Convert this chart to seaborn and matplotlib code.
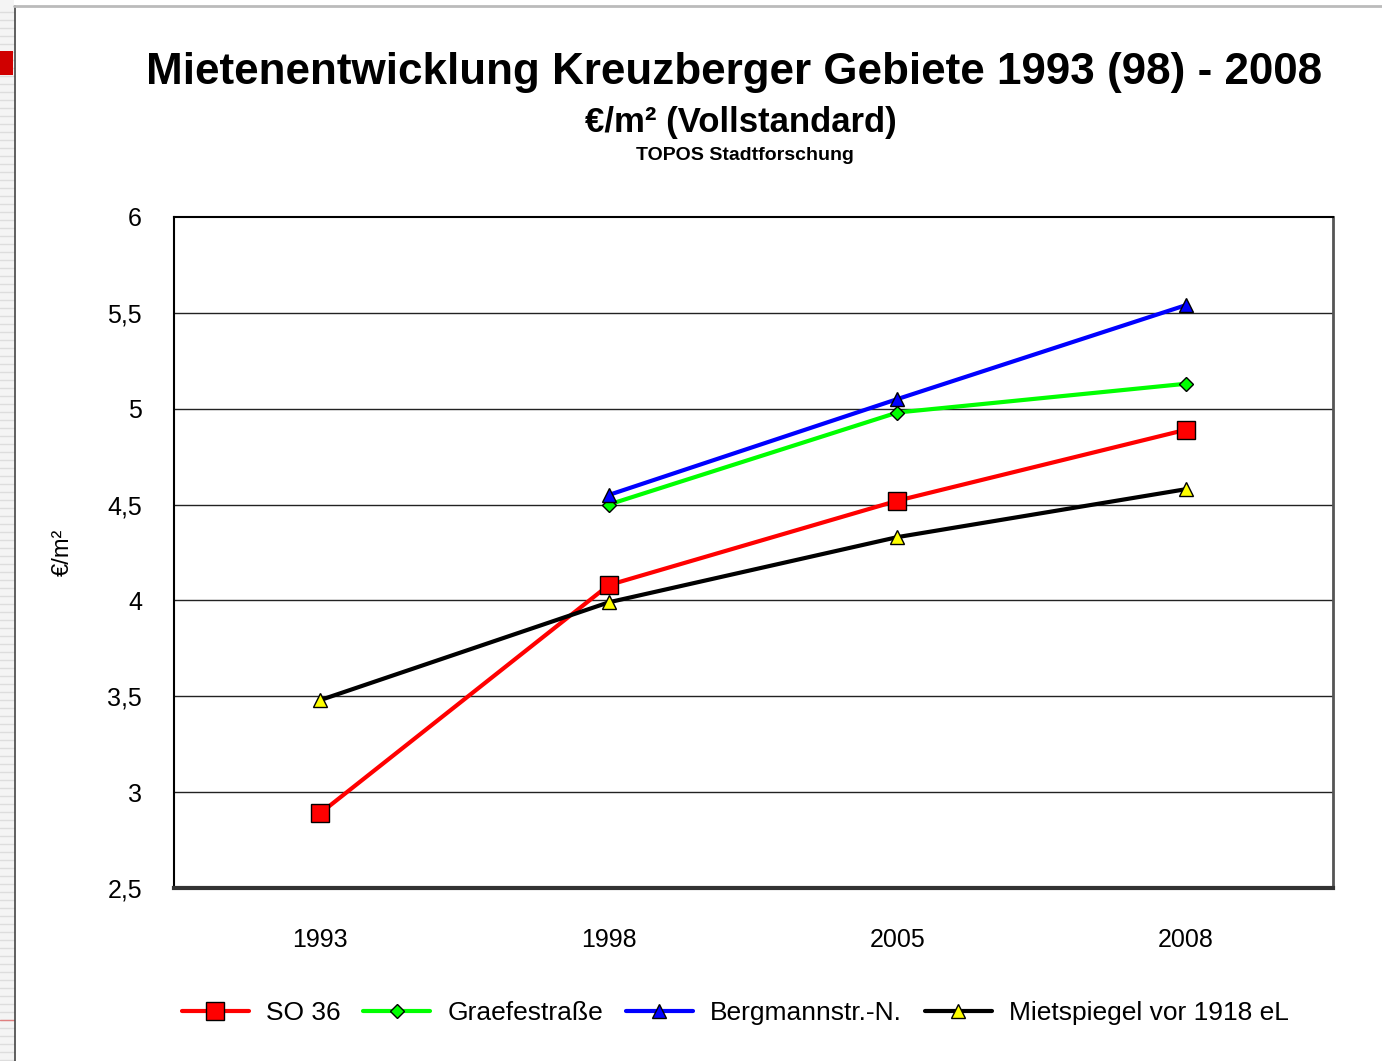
import matplotlib
matplotlib.use("Agg")
import numpy as np
import pandas as pd
import matplotlib.pyplot as plt
import seaborn as sns
from matplotlib.lines import Line2D
from matplotlib.patches import Rectangle

# data
years = ["1993", "1998", "2005", "2008"]
so36 = [2.89, 4.08, 4.52, 4.89]
graefe = [np.nan, 4.50, 4.98, 5.13]
bergmann = [np.nan, 4.55, 5.05, 5.54]
mietspiegel = [3.48, 3.99, 4.33, 4.58]

series_names = ["SO 36", "Graefestraße", "Bergmannstr.-N.", "Mietspiegel vor 1918 eL"]
line_colors = ["#ff0000", "#00ff00", "#0000ff", "#000000"]
face_colors = ["#ff0000", "#00ff00", "#0000ff", "#ffff00"]
markers = ["s", "D", "^", "^"]
marker_sizes = [12.5, 7, 10, 10]
y_ticks = [2.5, 3, 3.5, 4, 4.5, 5, 5.5, 6]

df = pd.DataFrame({"Jahr": years, series_names[0]: so36, series_names[1]: graefe,
                   series_names[2]: bergmann, series_names[3]: mietspiegel})
df["pos"] = range(len(years))
long = df.melt(id_vars=["Jahr", "pos"], var_name="Gebiet", value_name="Miete").dropna()

sns.set_style("white")
plt.rcParams["font.family"] = ["Liberation Sans", "DejaVu Sans"]
plt.rcParams["text.color"] = "black"
plt.rcParams["xtick.color"] = "black"
plt.rcParams["ytick.color"] = "black"
plt.rcParams["axes.labelcolor"] = "black"

fig = plt.figure(figsize=(13.82, 10.61), dpi=100)
ax = fig.add_axes([0.1259, 0.1631, 0.8387, 0.6324])

# draw gridlines first so lines sit on top
for t in y_ticks[1:-1]:
    ax.axhline(t, color="#222222", lw=1.0, zorder=1)

handles = []
for name, lc, fc, mk, ms in zip(series_names, line_colors, face_colors, markers, marker_sizes):
    sub = long[long["Gebiet"] == name]
    sns.lineplot(data=sub, x="pos", y="Miete", ax=ax, color=lc, lw=3,
                 marker=mk, markersize=ms, markerfacecolor=fc,
                 markeredgecolor="black", markeredgewidth=1, zorder=3,
                 legend=False)
    handles.append(Line2D([], [], color=lc, lw=3, marker=mk, markersize=ms,
                          markerfacecolor=fc, markeredgecolor="black",
                          markeredgewidth=1))

ax.set_xlim(-0.507, 3.51)
ax.set_ylim(2.5, 6)
ax.set_xticks(range(len(years)))
ax.set_xticklabels(years, fontsize=18)
ax.set_yticks(y_ticks)
ax.set_yticklabels([f"{t:g}".replace(".", ",") for t in y_ticks], fontsize=18)
ax.tick_params(axis="x", length=0, pad=29)
ax.tick_params(axis="y", length=0, pad=23)
ax.set_xlabel("")
ax.set_ylabel("€/m²", fontsize=17, labelpad=24)

for side in ["left", "top"]:
    ax.spines[side].set_color("black")
    ax.spines[side].set_linewidth(1.5)
ax.spines["right"].set_color("#555555")
ax.spines["right"].set_linewidth(2)
ax.spines["bottom"].set_color("#333333")
ax.spines["bottom"].set_linewidth(3)

fig.legend(handles, series_names, loc="center", bbox_to_anchor=(0.532, 0.045),
           ncol=4, frameon=False, fontsize=19, handlelength=2.55,
           columnspacing=0.85, handletextpad=0.65)

# titles
fig.text(0.531, 0.932, "Mietenentwicklung Kreuzberger Gebiete 1993 (98) - 2008",
         ha="center", va="center", fontsize=31.7, fontweight="bold")
fig.text(0.536, 0.885, "€/m² (Vollstandard)", ha="center", va="center",
         fontsize=25, fontweight="bold")
fig.text(0.539, 0.853, "TOPOS Stadtforschung", ha="center", va="center",
         fontsize=14, fontweight="bold")

# slide frame on the left and top
W, H = 1382, 1061
fig.add_artist(Rectangle((0, 0), 14 / W, 1, transform=fig.transFigure,
                         facecolor="#f4f4f4", edgecolor="none"))
for yp in range(12, H, 8):
    fig.add_artist(Line2D([0, 14 / W], [1 - yp / H] * 2, transform=fig.transFigure,
                          color="#dddddd", lw=1))
fig.add_artist(Rectangle((0, 1 - 75 / H), 13 / W, 24 / H, transform=fig.transFigure,
                         facecolor="#d00000", edgecolor="none", zorder=5))
fig.add_artist(Line2D([0, 14 / W], [1 - 1020 / H] * 2, transform=fig.transFigure,
                      color="#e08080", lw=1, zorder=5))
fig.add_artist(Line2D([14.5 / W, 14.5 / W], [0, 1 - 6 / H], transform=fig.transFigure,
                      color="#444444", lw=1.2, zorder=5))
fig.add_artist(Line2D([14 / W, 1], [1 - 6 / H] * 2, transform=fig.transFigure,
                      color="#bbbbbb", lw=2, zorder=5))

fig.savefig("out.png", dpi=100)
